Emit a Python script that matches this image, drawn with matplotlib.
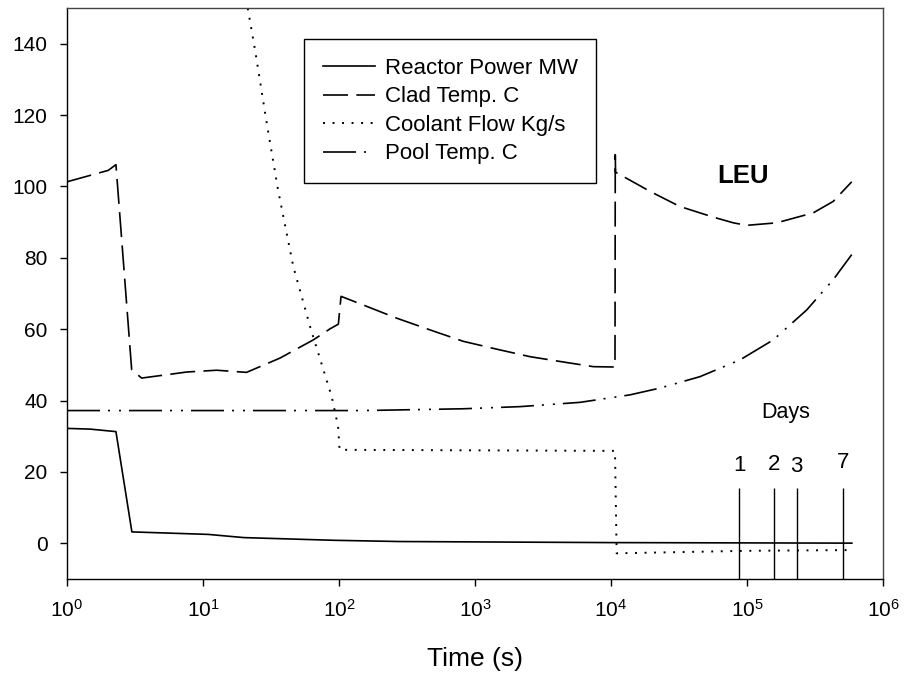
import matplotlib
matplotlib.use("Agg")
import matplotlib.pyplot as plt

plt.rcParams['font.family'] = ['Liberation Sans', 'DejaVu Sans']
plt.rcParams['mathtext.fontset'] = 'custom'
plt.rcParams['mathtext.rm'] = 'Liberation Sans'
plt.rcParams['mathtext.it'] = 'Liberation Sans'
plt.rcParams['mathtext.bf'] = 'Liberation Sans:bold'
plt.rcParams['xtick.labelsize'] = 15
plt.rcParams['ytick.labelsize'] = 15

# ---- data ----
power_t = [1, 1.48, 2.29, 3.0, 10.9, 20, 91, 280, 1e4, 5.9e5]
power_v = [32.2, 32.0, 31.3, 3.2, 2.5, 1.6, 0.85, 0.5, 0.2, 0.05]

clad_t = [1, 2.01, 2.29, 2.99, 3.54, 7.6, 12.6, 20.9, 36.8, 64.7, 85.9, 98.9,
          103.5, 155, 265, 467, 820, 1445, 2537, 4470, 7420, 1.07e4,
          1.075e4, 1.08e4, 1.94e4, 3.2e4, 5.65e4, 7.94e4, 9.95e4, 1.65e5,
          3.07e5, 4.3e5, 5.89e5]
clad_v = [101.3, 104.5, 106.1, 48.6, 46.3, 48.0, 48.5, 47.9, 51.9, 57.0, 60.1, 61.4,
          69.2, 66.6, 63.1, 59.8, 56.6, 54.4, 52.3, 50.8, 49.5, 49.4,
          108.9, 104.0, 98.6, 94.4, 91.4, 89.8, 89.1, 89.8,
          92.6, 95.8, 101.3]

flow_t = [20, 24.1, 29.4, 35.8, 46.1, 61.2, 88.4, 98.5, 101, 1.07e4, 1.1e4, 1e5, 5.4e5]
flow_v = [156, 138.4, 117.8, 98.6, 77.6, 60.8, 41.1, 32.7, 26.2, 25.9, -2.8, -2.1, -1.9]

pool_t = [1, 151, 820, 2143, 5920, 1.38e4, 2.29e4, 4.51e4, 8.89e4, 1.56e5,
          2.75e5, 4.31e5, 5.89e5]
pool_v = [37.2, 37.2, 37.7, 38.3, 39.5, 41.6, 43.5, 46.7, 51.4, 57.0,
          65.4, 73.9, 80.9]

day_labels = ['1', '2', '3', '7']
day_times = [8.8e4, 1.57e5, 2.32e5, 5.1e5]

series_names = ['Reactor Power MW', 'Clad Temp. C', 'Coolant Flow Kg/s', 'Pool Temp. C']

yticks = [0, 20, 40, 60, 80, 100, 120, 140]
xticks = [1, 10, 100, 1e3, 1e4, 1e5, 1e6]
xtick_labels = [r'$10^{%d}$' % i for i in range(7)]

fig = plt.figure(figsize=(9.05, 6.79), dpi=100)
ax = fig.add_axes([67/905, 100/679, 816/905, 571/679])

ax.plot(power_t, power_v, color='black', lw=1.2, label=series_names[0])
ax.plot(clad_t, clad_v, color='black', lw=1.2, dashes=(15, 5), label=series_names[1])
ax.plot(flow_t, flow_v, color='black', lw=1.4, dashes=(1.0, 3.9), label=series_names[2])
ax.plot(pool_t, pool_v, color='black', lw=1.2,
        dashes=(19.8, 4.8, 1.2, 5.4, 1.2, 4.8), label=series_names[3])

ax.vlines(day_times, -10, 15.6, color='black', lw=1.0)
for lab, t, yy in zip(day_labels, day_times, [21.7, 22.2, 21.5, 22.6]):
    ax.text(t, yy, lab, ha='center', va='center', fontsize=16)
ax.text(1.93e5, 36.7, 'Days', ha='center', va='center', fontsize=15.5)
ax.text(9.3e4, 102.8, 'LEU', ha='center', va='center', fontsize=18.5, fontweight='bold')

ax.set_xscale('log')
ax.set_xlim(1, 1e6)
ax.set_ylim(-10, 150)
ax.set_yticks(yticks, [str(v) for v in yticks], fontsize=15)
ax.set_xticks(xticks, xtick_labels, fontsize=15)
ax.minorticks_off()
ax.tick_params(axis='both', which='major', direction='out', length=5, width=1, pad=9)
ax.set_xlabel('Time (s)', fontsize=19, labelpad=19.5)

for s in ['left', 'bottom']:
    ax.spines[s].set_color('black')
    ax.spines[s].set_linewidth(1.0)
for s in ['top', 'right']:
    ax.spines[s].set_color('#444444')
    ax.spines[s].set_linewidth(1.0)

leg = ax.legend(loc='upper left', bbox_to_anchor=(0.290, 0.946), fontsize=16,
                frameon=True, fancybox=False, edgecolor='black', framealpha=1,
                handlelength=2.34, handletextpad=0.45, borderpad=0.85,
                labelspacing=0.34, borderaxespad=0)
leg.get_frame().set_linewidth(1.0)

fig.savefig('out.png', dpi=100)
